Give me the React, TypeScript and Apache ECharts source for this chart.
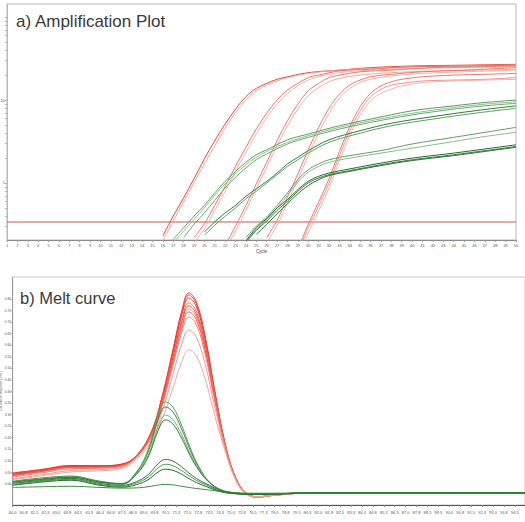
import React, { useEffect, useRef } from "react";
import * as echarts from "echarts";

// ---------- a) Amplification plot (cycle, log10 dRn) ----------
const ampTitle = "a) Amplification Plot";
const cycleAxisName = "Cycle";
const thresholdLog = -0.47;
const ampYLabelValues = [0, 1];
const ampYLabelTexts = ["1", "10"];

const ampRed1a = [[16,-0.64],[17,-0.40],[18,-0.18],[19,0.05],[20,0.29],[21,0.51],[22,0.71],[23,0.89],[24,1.04],[25,1.14],[26,1.20],[27,1.25],[28,1.28],[30,1.33],[33,1.36],[36,1.39],[40,1.41],[45,1.42],[50,1.43]];
const ampRed1b = [[16,-0.70],[17,-0.46],[18,-0.23],[19,0.00],[20,0.23],[21,0.45],[22,0.66],[23,0.85],[24,1.00],[25,1.11],[26,1.18],[27,1.23],[28,1.27],[30,1.32],[33,1.36],[36,1.38],[40,1.40],[45,1.41],[50,1.42]];
const ampRed2a = [[19,-0.66],[20,-0.49],[21,-0.27],[22,-0.04],[23,0.20],[24,0.43],[25,0.65],[26,0.84],[27,1.00],[28,1.12],[29,1.20],[30,1.27],[31,1.30],[33,1.35],[36,1.37],[40,1.40],[45,1.41],[50,1.42]];
const ampRed2b = [[19,-0.72],[20,-0.55],[21,-0.33],[22,-0.10],[23,0.14],[24,0.37],[25,0.59],[26,0.79],[27,0.95],[28,1.08],[29,1.17],[30,1.24],[31,1.28],[33,1.33],[36,1.36],[40,1.38],[45,1.39],[50,1.40]];
const ampRed3a = [[22,-0.75],[23,-0.52],[24,-0.27],[25,-0.01],[26,0.25],[27,0.51],[28,0.75],[29,0.95],[30,1.11],[31,1.20],[32,1.27],[33,1.30],[35,1.34],[38,1.36],[42,1.39],[46,1.40],[50,1.41]];
const ampRed3b = [[22,-0.80],[23,-0.58],[24,-0.33],[25,-0.07],[26,0.19],[27,0.45],[28,0.69],[29,0.89],[30,1.05],[31,1.15],[32,1.22],[33,1.26],[35,1.30],[38,1.33],[42,1.35],[46,1.36],[50,1.37]];
const ampRed4a = [[26,-0.66],[27,-0.45],[28,-0.17],[29,0.11],[30,0.40],[31,0.67],[32,0.90],[33,1.07],[34,1.18],[35,1.24],[36,1.28],[38,1.31],[41,1.34],[45,1.36],[50,1.39]];
const ampRed4b = [[26,-0.72],[27,-0.51],[28,-0.24],[29,0.04],[30,0.33],[31,0.60],[32,0.84],[33,1.02],[34,1.14],[35,1.21],[36,1.25],[38,1.29],[41,1.32],[45,1.34],[50,1.36]];
const ampRed5a = [[29,-0.80],[30,-0.50],[31,-0.23],[32,0.05],[33,0.38],[34,0.68],[35,0.92],[36,1.08],[37,1.17],[38,1.22],[39,1.25],[41,1.28],[44,1.30],[47,1.31],[50,1.32]];
const ampRed5b = [[29,-0.85],[30,-0.54],[31,-0.28],[32,0.00],[33,0.33],[34,0.63],[35,0.87],[36,1.04],[37,1.13],[38,1.18],[39,1.20],[41,1.23],[44,1.24],[47,1.25],[50,1.27]];
const ampRed5c = [[29,-0.90],[30,-0.60],[31,-0.34],[32,-0.06],[33,0.27],[34,0.57],[35,0.82],[36,0.99],[37,1.08],[38,1.13],[39,1.17],[41,1.21],[44,1.23],[47,1.24],[50,1.25]];

const ampGreen1a = [[17,-0.68],[18,-0.54],[19,-0.40],[20,-0.27],[21,-0.12],[22,0.02],[23,0.14],[24,0.25],[25,0.34],[26,0.40],[28,0.52],[30,0.59],[33,0.69],[36,0.77],[40,0.87],[44,0.93],[47,0.97],[50,1.00]];
const ampGreen1b = [[17,-0.72],[18,-0.58],[19,-0.44],[20,-0.30],[21,-0.15],[22,-0.01],[23,0.11],[24,0.22],[25,0.31],[26,0.38],[28,0.49],[30,0.57],[33,0.67],[36,0.75],[40,0.84],[44,0.91],[47,0.95],[50,0.98]];
const ampGreen1c = [[18,-0.66],[19,-0.50],[20,-0.36],[21,-0.21],[22,-0.06],[23,0.07],[24,0.18],[25,0.28],[26,0.35],[28,0.47],[30,0.55],[33,0.65],[36,0.73],[40,0.82],[44,0.89],[47,0.93],[50,0.96]];
const ampGreen2a = [[20,-0.59],[21,-0.47],[22,-0.36],[23,-0.27],[24,-0.16],[25,-0.07],[26,0.02],[27,0.12],[28,0.23],[29,0.31],[30,0.39],[32,0.52],[35,0.63],[38,0.72],[42,0.80],[46,0.87],[50,0.93]];
const ampGreen2b = [[20,-0.63],[21,-0.51],[22,-0.40],[23,-0.30],[24,-0.19],[25,-0.10],[26,0.00],[27,0.10],[28,0.20],[29,0.28],[30,0.36],[32,0.49],[35,0.60],[38,0.69],[42,0.77],[46,0.84],[50,0.90]];
const ampGreen3a = [[24,-0.66],[25,-0.52],[26,-0.41],[27,-0.27],[28,-0.12],[29,0.04],[30,0.16],[31,0.23],[32,0.28],[34,0.33],[37,0.39],[40,0.47],[44,0.55],[47,0.61],[50,0.67]];
const ampGreen3b = [[24,-0.70],[25,-0.56],[26,-0.44],[27,-0.30],[28,-0.15],[29,0.01],[30,0.13],[31,0.20],[32,0.25],[34,0.30],[37,0.36],[40,0.42],[44,0.50],[47,0.56],[50,0.61]];
const ampGreen4a = [[24,-0.70],[25,-0.54],[26,-0.43],[27,-0.30],[28,-0.20],[29,-0.08],[30,0.02],[31,0.08],[32,0.12],[34,0.17],[37,0.24],[40,0.30],[44,0.36],[47,0.41],[50,0.46]];
const ampGreen4b = [[24,-0.72],[25,-0.57],[26,-0.46],[27,-0.33],[28,-0.22],[29,-0.10],[30,0.00],[31,0.06],[32,0.10],[34,0.15],[37,0.22],[40,0.28],[44,0.34],[47,0.39],[50,0.44]];
const ampGreen4c = [[25,-0.62],[26,-0.50],[27,-0.37],[28,-0.25],[29,-0.13],[30,-0.03],[31,0.04],[32,0.09],[34,0.14],[37,0.21],[40,0.27],[44,0.33],[47,0.38],[50,0.43]];

// ---------- b) Melt curve (temperature, -Rn') ----------
const meltTitle = "b) Melt curve";
const meltYAxisName = "Derivative Reporter (-Rn')";
const meltYLabelValues = [0, 0.05, 0.1, 0.15, 0.2, 0.25, 0.3, 0.35, 0.4, 0.45, 0.5, 0.55, 0.6, 0.65, 0.7, 0.75, 0.8];

const meltTempsRed = [60, 62, 64, 66, 67.5, 68.5, 69.5, 70.25, 71, 71.6, 72.1, 72.6, 73.2, 73.9, 74.6, 75.3, 76, 76.8, 78, 80, 84, 90, 95.2];
const meltRed1 = [0.045,0.060,0.078,0.078,0.085, 0.123,0.222,0.375,0.578,0.745,0.826,0.790,0.646,0.398,0.173, 0.030,-0.038,-0.056,-0.048,-0.040,-0.039,-0.039,-0.039];
const meltRed2 = [0.040,0.058,0.076,0.076,0.083, 0.122,0.220,0.371,0.572,0.737,0.817,0.781,0.639,0.394,0.172, 0.028,-0.039,-0.057,-0.048,-0.040,-0.039,-0.039,-0.039];
const meltRed3 = [0.048,0.063,0.080,0.079,0.086, 0.122,0.218,0.366,0.563,0.725,0.804,0.769,0.629,0.388,0.170, 0.029,-0.037,-0.055,-0.047,-0.039,-0.039,-0.039,-0.039];
const meltRed4 = [0.036,0.054,0.072,0.073,0.080, 0.120,0.213,0.358,0.549,0.706,0.783,0.749,0.613,0.379,0.167, 0.027,-0.039,-0.056,-0.048,-0.040,-0.039,-0.039,-0.039];
const meltRed5 = [0.042,0.059,0.075,0.075,0.082, 0.119,0.211,0.353,0.541,0.695,0.770,0.736,0.603,0.374,0.166, 0.026,-0.040,-0.057,-0.049,-0.040,-0.039,-0.039,-0.039];
const meltRed6 = [0.034,0.052,0.070,0.071,0.079, 0.118,0.208,0.347,0.532,0.683,0.757,0.724,0.593,0.368,0.164, 0.025,-0.040,-0.056,-0.048,-0.040,-0.039,-0.039,-0.039];
const meltRed7 = [0.038,0.055,0.073,0.073,0.081, 0.118,0.206,0.342,0.523,0.672,0.744,0.712,0.583,0.363,0.162, 0.026,-0.039,-0.055,-0.047,-0.039,-0.039,-0.039,-0.039];
const meltRed8 = [0.030,0.048,0.066,0.068,0.076, 0.116,0.202,0.334,0.509,0.652,0.722,0.691,0.567,0.353,0.159, 0.024,-0.040,-0.056,-0.048,-0.040,-0.039,-0.039,-0.039];
const meltRed9 = [0.022,0.040,0.058,0.062,0.072, 0.113,0.190,0.311,0.471,0.602,0.666,0.637,0.524,0.329,0.152, 0.022,-0.041,-0.057,-0.049,-0.040,-0.039,-0.039,-0.039];
const meltRed10 = [0.018,0.035,0.052,0.057,0.068, 0.107,0.174,0.277,0.413,0.525,0.580,0.556,0.459,0.292,0.141, 0.020,-0.040,-0.055,-0.048,-0.040,-0.039,-0.039,-0.039];

const meltTempsGreen = [60, 62, 64, 66, 67.5, 68.5, 69.3, 70, 70.5, 71, 71.6, 72.2, 72.8, 73.5, 74.3, 75.3, 76.5, 78, 80, 84, 90, 95.2];
const meltGreen1 = [0.009,0.022,0.030,0.009,0.000, 0.052,0.147,0.298,0.355,0.333,0.255,0.156,0.074,0.009, -0.026,-0.039,-0.043,-0.043,-0.039,-0.039,-0.039,-0.039];
const meltGreen2 = [0.012,0.026,0.034,0.012,0.002, 0.049,0.138,0.280,0.333,0.312,0.239,0.146,0.069,0.008, -0.025,-0.038,-0.042,-0.043,-0.039,-0.039,-0.039,-0.039];
const meltGreen3 = [0.005,0.018,0.027,0.006,-0.002, 0.044,0.123,0.250,0.298,0.279,0.214,0.131,0.062,0.008, -0.027,-0.040,-0.044,-0.043,-0.039,-0.039,-0.039,-0.039];
const meltGreen4 = [0.008,0.020,0.029,0.008,0.000, 0.041,0.115,0.232,0.277,0.260,0.199,0.122,0.058,0.007, -0.026,-0.039,-0.043,-0.043,-0.039,-0.039,-0.039,-0.039];
const meltGreen5 = [0.002,0.015,0.024,0.002,-0.006, 0.010,0.040,0.088,0.106,0.099,0.074,0.043,0.017,-0.005, -0.030,-0.041,-0.044,-0.043,-0.039,-0.039,-0.039,-0.039];
const meltGreen6 = [-0.002,0.012,0.020,-0.002,-0.010, 0.004,0.029,0.070,0.085,0.079,0.058,0.032,0.010,-0.010, -0.032,-0.042,-0.045,-0.044,-0.040,-0.039,-0.039,-0.039];
const meltGreen7 = [-0.006,0.008,0.016,-0.006,-0.014, -0.003,0.018,0.052,0.064,0.059,0.042,0.020,0.001,-0.016, -0.034,-0.042,-0.045,-0.044,-0.040,-0.039,-0.039,-0.039];
const meltGreen8 = [-0.015,-0.012,-0.010,-0.015,-0.018, -0.017,-0.012,-0.005,-0.002,-0.004,-0.010,-0.016,-0.021,-0.026, -0.032,-0.038,-0.040,-0.040,-0.039,-0.039,-0.039,-0.039];

export default function App() {
  const ref = useRef<HTMLDivElement>(null);

  useEffect(() => {
    document.body.style.margin = "0";
    const chart = echarts.init(ref.current!, null, { renderer: "svg" });
    const font = "Liberation Sans, Arial, sans-serif";

    const ampRedCurves = [ampRed1a, ampRed1b, ampRed2a, ampRed2b, ampRed3a, ampRed3b, ampRed4a, ampRed4b, ampRed5a, ampRed5b, ampRed5c];
    const ampRedColors = ["#e0463c", "#efa39b", "#e67569", "#f2b2ab", "#e5786d", "#f0aaa2", "#e6786d", "#f1aea7", "#e7796f", "#ec958c", "#f2b0a9"];
    const ampGreenCurves = [ampGreen1a, ampGreen1b, ampGreen1c, ampGreen2a, ampGreen2b, ampGreen3a, ampGreen3b, ampGreen4a, ampGreen4b, ampGreen4c];
    const ampGreenColors = ["#5c9e5e", "#8fc08f", "#6aa76c", "#2f7d35", "#5f9d62", "#5fa061", "#8ab98b", "#236a2a", "#3a8040", "#2a722f"];

    const meltRedCurves = [meltRed1, meltRed2, meltRed3, meltRed4, meltRed5, meltRed6, meltRed7, meltRed8, meltRed9, meltRed10];
    const meltRedColors = ["#e8352b", "#ea5046", "#e4372d", "#ec7068", "#e6453b", "#ee8a82", "#e8594f", "#ec7b73", "#ef978f", "#f0a59d"];
    const meltGreenCurves = [meltGreen1, meltGreen2, meltGreen3, meltGreen4, meltGreen5, meltGreen6, meltGreen7, meltGreen8];
    const meltGreenColors = ["#5a9f5a", "#3f8c42", "#74b074", "#2f7d35", "#2a7430", "#4a934c", "#1f6a26", "#3d8a40"];

    const minorTicks: number[] = [];
    for (let e = -1; e <= 2; e++) {
      for (let m = 1; m <= 9; m++) {
        const v = e + Math.log10(m);
        if (v > -0.687 && v < 2.157) minorTicks.push(v);
      }
    }

    const series: any[] = [];
    series.push({
      type: "line", xAxisIndex: 0, yAxisIndex: 0, symbol: "none", silent: true,
      data: [[1, thresholdLog], [50, thresholdLog]],
      lineStyle: { width: 1, color: "#c9564e" }, z: 2,
    });
    ampRedCurves.forEach((d, i) => series.push({
      type: "line", xAxisIndex: 0, yAxisIndex: 0, symbol: "none", smooth: 0.35, data: d,
      lineStyle: { width: 1, color: ampRedColors[i] }, z: 3,
    }));
    ampGreenCurves.forEach((d, i) => series.push({
      type: "line", xAxisIndex: 0, yAxisIndex: 0, symbol: "none", smooth: 0.35, data: d,
      lineStyle: { width: 1, color: ampGreenColors[i] }, z: 4,
    }));
    meltRedCurves.forEach((vals, i) => series.push({
      type: "line", xAxisIndex: 1, yAxisIndex: 1, symbol: "none", smooth: 0.4,
      data: meltTempsRed.map((t, k) => [t, vals[k]]),
      lineStyle: { width: 1, color: meltRedColors[i] }, z: 3,
    }));
    meltGreenCurves.forEach((vals, i) => series.push({
      type: "line", xAxisIndex: 1, yAxisIndex: 1, symbol: "none", smooth: 0.4,
      data: meltTempsGreen.map((t, k) => [t, vals[k]]),
      lineStyle: { width: 1, color: meltGreenColors[i] }, z: 4,
    }));

    const tinyLabel = { fontSize: 4, color: "#555", fontFamily: font };

    chart.setOption({
      animation: false,
      backgroundColor: "#ffffff",
      title: [
        { text: ampTitle, left: 16, top: 13, padding: 0, textStyle: { fontSize: 17, fontWeight: "normal", color: "#3a3a3a", fontFamily: font } },
        { text: meltTitle, left: 20, top: 289, padding: 0, textStyle: { fontSize: 16.5, fontWeight: "normal", color: "#3a3a3a", fontFamily: font } },
      ],
      grid: [
        { left: 7, top: 4, width: 509, height: 236, show: true, borderColor: "#b8b8b8", borderWidth: 1, outerBoundsMode: "none", containLabel: false },
        { left: 12.7, top: 277, right: 0, height: 228, show: true, borderColor: "#c4c4c4", borderWidth: 1, outerBoundsMode: "none", containLabel: false },
      ],
      xAxis: [
        {
          type: "value", gridIndex: 0, min: 1, max: 50, interval: 1,
          name: cycleAxisName, nameLocation: "middle", nameGap: 9, nameMoveOverlap: false,
          nameTextStyle: { fontSize: 4.5, color: "#444", fontFamily: font },
          axisLine: { onZero: false, lineStyle: { color: "#8a8a8a", width: 1 } },
          axisTick: { length: 2, lineStyle: { color: "#9a9a9a" } },
          axisLabel: { ...tinyLabel, margin: 3 },
          splitLine: { show: false },
        },
        {
          type: "value", gridIndex: 1, min: 60, max: 95.2, interval: 0.75,
          axisLine: { onZero: false, lineStyle: { color: "#555", width: 1 } },
          axisTick: { length: 2, lineStyle: { color: "#888" } },
          axisLabel: { ...tinyLabel, margin: 5, showMaxLabel: false, formatter: (v: number) => v.toFixed(1) },
          splitLine: { show: false },
        },
      ],
      yAxis: [
        {
          type: "value", gridIndex: 0, min: -0.687, max: 2.157,
          axisLine: { show: true, onZero: false, lineStyle: { color: "#b8b8b8", width: 1 } },
          axisTick: { show: true, length: 2, customValues: minorTicks, lineStyle: { color: "#b0b0b0" } },
          axisLabel: {
            ...tinyLabel, margin: 2, customValues: ampYLabelValues,
            formatter: (v: number) => ampYLabelTexts[ampYLabelValues.indexOf(Math.round(v))] ?? "",
          },
          splitLine: { show: false },
        },
        {
          type: "value", gridIndex: 1, min: -0.091, max: 0.895,
          name: meltYAxisName, nameLocation: "middle", nameGap: 9.5, nameRotate: 90, nameMoveOverlap: false,
          nameTextStyle: { fontSize: 3.5, color: "#555", fontFamily: font },
          axisLine: { show: true, onZero: false, lineStyle: { color: "#999", width: 1 } },
          axisTick: { show: true, length: 1.5, customValues: meltYLabelValues, lineStyle: { color: "#aaa" } },
          axisLabel: { ...tinyLabel, fontSize: 3.3, margin: 1.5, customValues: meltYLabelValues, formatter: (v: number) => v.toFixed(2) },
          splitLine: { show: false },
        },
      ],
      series,
    });

    return () => chart.dispose();
  }, []);

  return <div ref={ref} style={{ width: 525, height: 522 }} />;
}
